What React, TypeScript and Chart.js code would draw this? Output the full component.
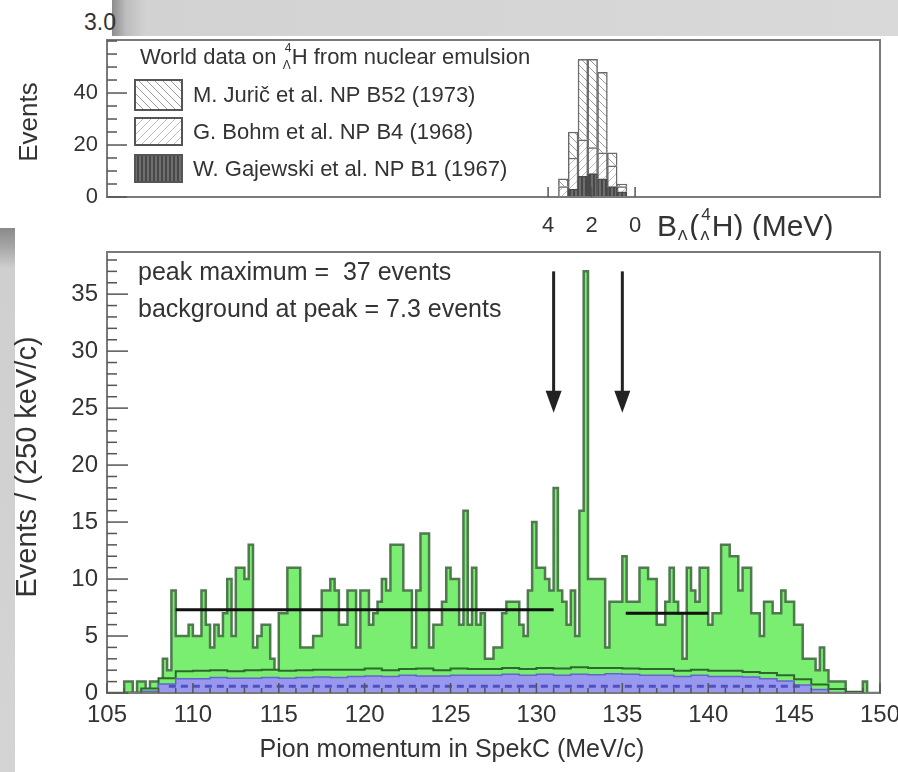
import React, { useEffect, useRef } from "react";
import { Chart, registerables } from "chart.js";

Chart.register(...registerables);

const FONT = "'Liberation Sans', Arial, Helvetica, sans-serif";
const TEXT = "#333333";

// ---------------- Top panel: world emulsion data (binned in B_Lambda, MeV) ----------------
const emulsionBinCenters = [3.3, 2.85, 2.4, 1.95, 1.5, 1.05, 0.6];
const gajewskiEvents = [0, 3, 8, 9, 7, 4, 2];
const bohmEvents = [4, 12, 14, 10, 10, 8, 2];
const juricEvents = [3, 10, 31, 34, 31, 5, 1];
const emulsionLabels = [
  "M. Jurič et al. NP B52 (1973)",
  "G. Bohm et al. NP B4 (1968)",
  "W. Gajewski et al. NP B1 (1967)",
];
const bTickValues = [4, 2, 0];
const topYTicks = [0, 20, 40];
const topYMinorStep = 5;

// ---------------- Main panel: pion momentum spectrum ----------------
const pionBinStart = 105;
const pionBinWidth = 0.25;
const pionCounts = [
  0, 0, 0, 0, 1, 1, 0, 1, 1, 0, 1, 1, 1, 3, 2,
  9, 5, 5, 5, 6, 5, 5, 9, 6, 4, 6, 5, 7, 10, 5,
  11, 11, 10, 13, 4, 5, 6, 6, 3, 1, 7, 7, 11, 11, 11,
  4, 4, 4, 5, 5, 9, 9, 10, 9, 6, 6, 9, 9, 4, 9,
  9, 6, 7, 8, 10, 9, 13, 13, 13, 9, 9, 4, 9, 14, 14,
  4, 6, 6, 8, 11, 10, 10, 6, 16, 6, 11, 6, 7, 3, 3,
  4, 4, 7, 8, 8, 8, 6, 5, 9, 15, 11, 11, 10, 9, 18,
  9, 8, 6, 9, 5, 16, 37, 10, 10, 10, 10, 4, 8, 8, 8,
  12, 8, 8, 8, 11, 11, 10, 10, 6, 6, 8, 11, 8, 7, 3,
  11, 9, 8, 11, 11, 6, 7, 7, 13, 13, 12, 12, 9, 11, 11,
  7, 7, 5, 8, 8, 7, 7, 9, 8, 8, 6, 6, 3, 3, 3,
  2, 4, 2, 1, 1, 1, 1, 0, 0, 0, 0, 1, 0, 0, 0,
];
const bgBinStart = 105;
const bgBinWidth = 1;
const accidentalBackground = [
  0, 0.05, 0.4, 1.3, 1.9, 1.95, 2.0, 1.9, 2.0, 2.05,
  1.95, 2.0, 2.05, 2.05, 2.05, 2.15, 2.0, 2.1, 2.15, 2.0,
  2.15, 2.1, 2.1, 2.2, 2.1, 2.2, 2.15, 2.25, 2.2, 2.2,
  2.15, 2.1, 2.1, 1.95, 2.05, 1.95, 1.95, 1.85, 1.75, 1.55,
  1.2, 0.75, 0.35, 0.1, 0,
];
const randomBackground = [
  0, 0, 0.15, 0.8, 1.25, 1.25, 1.35, 1.3, 1.3, 1.35,
  1.3, 1.35, 1.4, 1.35, 1.45, 1.5, 1.45, 1.55, 1.5, 1.5,
  1.55, 1.55, 1.55, 1.65, 1.55, 1.65, 1.55, 1.65, 1.6, 1.7,
  1.65, 1.55, 1.55, 1.45, 1.55, 1.45, 1.45, 1.4, 1.25, 1.05,
  0.7, 0.3, 0.05, 0, 0,
];
const bgDashLevel = 0.6;
const bgDashFrom = 108.6;
const bgDashTo = 145.6;
const fitFrom = [109, 135.2];
const fitTo = [131, 140];
const fitLevel = [7.3, 7.0];
const arrowX = [131, 135];
const arrowFrom = 37;
const arrowTo = 24.6;
const mainXMin = 105;
const mainXMax = 150;
const mainXStep = 5;
const mainYMax = 38.7;
const mainYStep = 5;
const annotationLines = ["peak maximum =  37 events", "background at peak = 7.3 events"];

function histPoints(start: number, width: number, values: number[]) {
  const pts = [{ x: start, y: 0 }];
  values.forEach((v, i) => pts.push({ x: start + i * width, y: v }));
  pts.push({ x: start + values.length * width, y: 0 });
  return pts;
}

function makePattern(bg: string, fg: string, kind: string, lw: number) {
  const c = document.createElement("canvas");
  c.width = 8;
  c.height = 8;
  const g = c.getContext("2d") as CanvasRenderingContext2D;
  g.fillStyle = bg;
  g.fillRect(0, 0, 8, 8);
  g.strokeStyle = fg;
  g.lineWidth = lw;
  g.beginPath();
  if (kind === "back") {
    g.moveTo(0, 0); g.lineTo(8, 8);
    g.moveTo(-4, 4); g.lineTo(4, 12);
    g.moveTo(4, -4); g.lineTo(12, 4);
  } else if (kind === "fwd") {
    g.moveTo(0, 8); g.lineTo(8, 0);
    g.moveTo(-4, 4); g.lineTo(4, -4);
    g.moveTo(4, 12); g.lineTo(12, 4);
  } else {
    g.moveTo(2, 0); g.lineTo(2, 8);
    g.moveTo(6, 0); g.lineTo(6, 8);
  }
  g.stroke();
  return g.createPattern(c, "repeat") as CanvasPattern;
}

function drawScriptedH(ctx: CanvasRenderingContext2D, x: number, base: number, size: number) {
  const small = Math.round(size * 0.55);
  ctx.font = `${small}px ${FONT}`;
  ctx.fillText("4", x + 2, base - size * 0.55);
  ctx.fillText("Λ", x, base + size * 0.22);
  x += ctx.measureText("Λ").width + 1;
  ctx.font = `${size}px ${FONT}`;
  ctx.fillText("H", x, base);
  return x + ctx.measureText("H").width;
}

function zeroPad(s: any) {
  s.paddingTop = 0;
  s.paddingBottom = 0;
  s.paddingLeft = 0;
  s.paddingRight = 0;
}

export default function App() {
  const topRef = useRef<HTMLCanvasElement | null>(null);
  const mainRef = useRef<HTMLCanvasElement | null>(null);

  useEffect(() => {
    const topCanvas = topRef.current as HTMLCanvasElement;
    const mainCanvas = mainRef.current as HTMLCanvasElement;

    const juricPat = makePattern("#ffffff", "#9a9a9a", "back", 1);
    const bohmPat = makePattern("#ffffff", "#bdbdbd", "fwd", 1);
    const gajPat = makePattern("#6e6e6e", "#3c3c3c", "vert", 1.5);
    const patterns = [juricPat, bohmPat, gajPat];

    const topPlugin = {
      id: "topDecor",
      afterDatasetsDraw(chart: any) {
        const { ctx, chartArea: a, scales } = chart;
        const xs = scales.x;
        const ys = scales.y;
        ctx.save();
        ctx.strokeStyle = "#7a7a7a";
        ctx.lineWidth = 2;
        ctx.strokeRect(a.left, a.top, a.right - a.left, a.bottom - a.top);
        ctx.strokeStyle = "#555";
        ctx.lineWidth = 1.5;
        for (let v = 0; v <= ys.max; v += topYMinorStep) {
          const y = ys.getPixelForValue(v);
          const len = topYTicks.indexOf(v) >= 0 ? 20 : 10;
          ctx.beginPath();
          ctx.moveTo(a.left, y);
          ctx.lineTo(a.left + len, y);
          ctx.stroke();
        }
        bTickValues.forEach((b) => {
          const x = xs.getPixelForValue(b);
          ctx.beginPath();
          ctx.moveTo(x, a.bottom);
          ctx.lineTo(x, a.bottom - 10);
          ctx.stroke();
        });
        ctx.fillStyle = TEXT;
        ctx.textBaseline = "alphabetic";
        let tx = a.left + 33;
        const tb = a.top + 24;
        ctx.font = `22px ${FONT}`;
        ctx.fillText("World data on ", tx, tb);
        tx += ctx.measureText("World data on ").width;
        tx = drawScriptedH(ctx, tx, tb, 22);
        ctx.font = `22px ${FONT}`;
        ctx.fillText(" from nuclear emulsion", tx, tb);
        const boxTops = [40, 78, 115];
        const boxH = [30, 27, 27];
        emulsionLabels.forEach((lab, i) => {
          const bx = a.left + 28;
          const by = a.top + boxTops[i];
          ctx.fillStyle = patterns[i];
          ctx.fillRect(bx, by, 47, boxH[i]);
          ctx.strokeStyle = "#555";
          ctx.lineWidth = 2;
          ctx.strokeRect(bx, by, 47, boxH[i]);
          ctx.fillStyle = TEXT;
          ctx.font = `22px ${FONT}`;
          ctx.textBaseline = "middle";
          ctx.fillText(lab, a.left + 86, by + boxH[i] / 2 + 1);
        });
        ctx.restore();
      },
      afterDraw(chart: any) {
        const { ctx, chartArea: a } = chart;
        ctx.save();
        ctx.fillStyle = TEXT;
        ctx.translate(30, a.top + 82);
        ctx.rotate(-Math.PI / 2);
        ctx.font = `26px ${FONT}`;
        ctx.textAlign = "center";
        ctx.textBaseline = "middle";
        ctx.fillText("Events", 0, 0);
        ctx.restore();
        ctx.save();
        ctx.fillStyle = TEXT;
        ctx.textBaseline = "alphabetic";
        let x = 657;
        const base = a.bottom + 39;
        ctx.font = `30px ${FONT}`;
        ctx.fillText("B", x, base);
        x += ctx.measureText("B").width;
        ctx.font = `17px ${FONT}`;
        ctx.fillText("Λ", x, base + 6);
        x += ctx.measureText("Λ").width + 1;
        ctx.font = `30px ${FONT}`;
        ctx.fillText("(", x, base);
        x += ctx.measureText("(").width;
        x = drawScriptedH(ctx, x, base, 30);
        ctx.font = `30px ${FONT}`;
        ctx.fillText(") (MeV)", x, base);
        ctx.restore();
      },
    };

    const topChart = new Chart(topCanvas, {
      type: "bar",
      data: {
        datasets: [
          {
            label: emulsionLabels[2],
            data: emulsionBinCenters.map((b, i) => ({ x: b, y: gajewskiEvents[i] })),
            backgroundColor: gajPat,
            borderColor: "#4a4a4a",
            borderWidth: 1.5,
          },
          {
            label: emulsionLabels[1],
            data: emulsionBinCenters.map((b, i) => ({ x: b, y: bohmEvents[i] })),
            backgroundColor: bohmPat,
            borderColor: "#6a6a6a",
            borderWidth: 1.5,
          },
          {
            label: emulsionLabels[0],
            data: emulsionBinCenters.map((b, i) => ({ x: b, y: juricEvents[i] })),
            backgroundColor: juricPat,
            borderColor: "#6a6a6a",
            borderWidth: 1.5,
          },
        ],
      },
      options: {
        animation: false,
        responsive: false,
        events: [],
        layout: { padding: { left: 0, right: 18, top: 10, bottom: 0 } },
        datasets: { bar: { barPercentage: 1, categoryPercentage: 1 } },
        plugins: { legend: { display: false }, tooltip: { enabled: false } },
        scales: {
          x: {
            type: "linear",
            reverse: true,
            stacked: true,
            offset: false,
            min: -11.26,
            max: 24.28,
            grid: { display: false, drawTicks: false },
            border: { display: false },
            afterBuildTicks: (s: any) => {
              s.ticks = bTickValues.map((v) => ({ value: v }));
            },
            ticks: { font: { size: 22, family: FONT }, color: TEXT, padding: 16, maxRotation: 0 },
            afterFit: (s: any) => { s.height = 43; zeroPad(s); },
          },
          y: {
            stacked: true,
            min: 0,
            max: 60.4,
            grid: { display: false, drawTicks: false },
            border: { display: false },
            afterBuildTicks: (s: any) => {
              s.ticks = topYTicks.map((v) => ({ value: v }));
            },
            ticks: { font: { size: 22, family: FONT }, color: TEXT, padding: 9 },
            afterFit: (s: any) => { s.width = 107; zeroPad(s); },
          },
        },
      },
      plugins: [topPlugin],
    } as any);

    const mainPlugin = {
      id: "mainDecor",
      afterDatasetsDraw(chart: any) {
        const { ctx, chartArea: a, scales } = chart;
        const xs = scales.x;
        const ys = scales.y;
        ctx.save();
        ctx.strokeStyle = "#7a7a7a";
        ctx.lineWidth = 2;
        ctx.strokeRect(a.left, a.top, a.right - a.left, a.bottom - a.top);
        ctx.strokeStyle = "#555";
        ctx.lineWidth = 1.5;
        for (let v = 0; v <= ys.max; v += 1) {
          const y = ys.getPixelForValue(v);
          const len = v % mainYStep === 0 ? 21 : 10;
          ctx.beginPath();
          ctx.moveTo(a.left, y);
          ctx.lineTo(a.left + len, y);
          ctx.stroke();
        }
        for (let v = mainXMin; v <= mainXMax; v += 1) {
          const x = xs.getPixelForValue(v);
          const len = v % mainXStep === 0 ? 10 : 5;
          ctx.beginPath();
          ctx.moveTo(x, a.bottom);
          ctx.lineTo(x, a.bottom - len);
          ctx.stroke();
        }
        ctx.strokeStyle = "#222";
        ctx.fillStyle = "#222";
        arrowX.forEach((ax) => {
          const x = xs.getPixelForValue(ax);
          const y0 = ys.getPixelForValue(arrowFrom);
          const y1 = ys.getPixelForValue(arrowTo);
          ctx.lineWidth = 3;
          ctx.beginPath();
          ctx.moveTo(x, y0);
          ctx.lineTo(x, y1 - 18);
          ctx.stroke();
          ctx.beginPath();
          ctx.moveTo(x - 8, y1 - 22);
          ctx.lineTo(x + 8, y1 - 22);
          ctx.lineTo(x, y1);
          ctx.closePath();
          ctx.fill();
        });
        ctx.fillStyle = TEXT;
        ctx.font = `25px ${FONT}`;
        ctx.textBaseline = "middle";
        ctx.fillText(annotationLines[0], a.left + 31, a.top + 21);
        ctx.fillText(annotationLines[1], a.left + 31, a.top + 58);
        ctx.restore();
      },
      afterDraw(chart: any) {
        const { ctx, chartArea: a } = chart;
        ctx.save();
        ctx.fillStyle = TEXT;
        ctx.font = `25px ${FONT}`;
        ctx.textAlign = "center";
        ctx.textBaseline = "middle";
        ctx.fillText("Pion momentum in SpekC (MeV/c)", 452, a.bottom + 57);
        ctx.translate(28, a.top + 215);
        ctx.rotate(-Math.PI / 2);
        ctx.font = `29px ${FONT}`;
        ctx.fillText("Events / (250 keV/c)", 0, 0);
        ctx.restore();
      },
    };

    const lineBase = { pointRadius: 0, tension: 0, stepped: true };
    const mainChart = new Chart(mainCanvas, {
      type: "line",
      data: {
        datasets: [
          { ...lineBase, stepped: false, label: "fit1", data: [{ x: fitFrom[0], y: fitLevel[0] }, { x: fitTo[0], y: fitLevel[0] }], borderColor: "#111", borderWidth: 3, fill: false },
          { ...lineBase, stepped: false, label: "fit2", data: [{ x: fitFrom[1], y: fitLevel[1] }, { x: fitTo[1], y: fitLevel[1] }], borderColor: "#111", borderWidth: 3, fill: false },
          { ...lineBase, stepped: false, label: "bgdash", data: [{ x: bgDashFrom, y: bgDashLevel }, { x: bgDashTo, y: bgDashLevel }], borderColor: "rgb(80,80,195)", borderWidth: 3, borderDash: [7, 5], fill: false },
          { ...lineBase, label: "random", data: histPoints(bgBinStart, bgBinWidth, randomBackground), borderColor: "rgb(100,100,205)", borderWidth: 1.5, backgroundColor: "rgb(152,152,238)", fill: "origin" },
          { ...lineBase, label: "accidental", data: histPoints(bgBinStart, bgBinWidth, accidentalBackground), borderColor: "rgb(45,105,45)", borderWidth: 2, backgroundColor: "rgb(122,236,112)", fill: "origin" },
          { ...lineBase, label: "data", data: histPoints(pionBinStart, pionBinWidth, pionCounts), borderColor: "rgb(78,122,78)", borderWidth: 2.5, backgroundColor: "rgb(122,238,112)", fill: "origin" },
        ],
      },
      options: {
        animation: false,
        responsive: false,
        events: [],
        layout: { padding: { left: 0, right: 18, top: 12, bottom: 0 } },
        plugins: { legend: { display: false }, tooltip: { enabled: false } },
        scales: {
          x: {
            type: "linear",
            min: mainXMin,
            max: mainXMax,
            grid: { display: false, drawTicks: false },
            border: { display: false },
            ticks: { stepSize: mainXStep, includeBounds: false, font: { size: 24, family: FONT }, color: TEXT, padding: 8, maxRotation: 0 },
            afterFit: (s: any) => { s.height = 79; zeroPad(s); },
          },
          y: {
            min: 0,
            max: mainYMax,
            grid: { display: false, drawTicks: false },
            border: { display: false },
            ticks: { stepSize: mainYStep, includeBounds: false, font: { size: 24, family: FONT }, color: TEXT, padding: 9 },
            afterFit: (s: any) => { s.width = 107; zeroPad(s); },
          },
        },
      },
      plugins: [mainPlugin],
    } as any);

    return () => {
      topChart.destroy();
      mainChart.destroy();
    };
  }, []);

  return (
    <div style={{ position: "absolute", left: 0, top: 0, width: 898, height: 772, background: "#fff", overflow: "hidden" }}>
      <div style={{ position: "absolute", left: 112, top: 0, width: 786, height: 36, background: "linear-gradient(to right, #8c8c8c 0px, #bdbdbd 14px, #d2d2d2 34px, #d9d9d9 100%)" }} />
      <div style={{ position: "absolute", left: 84, top: 9, fontFamily: FONT, fontSize: 23, color: TEXT }}>3.0</div>
      <div style={{ position: "absolute", left: 0, top: 228, width: 15, height: 544, background: "linear-gradient(to bottom, #8a8a8a 0px, #a8a8a8 20px, #cfcfcf 40px, #d4d4d4 100%)" }} />
      <canvas ref={topRef} width={898} height={210} style={{ position: "absolute", left: 0, top: 30 }} />
      <canvas ref={mainRef} width={898} height={532} style={{ position: "absolute", left: 0, top: 240 }} />
    </div>
  );
}
